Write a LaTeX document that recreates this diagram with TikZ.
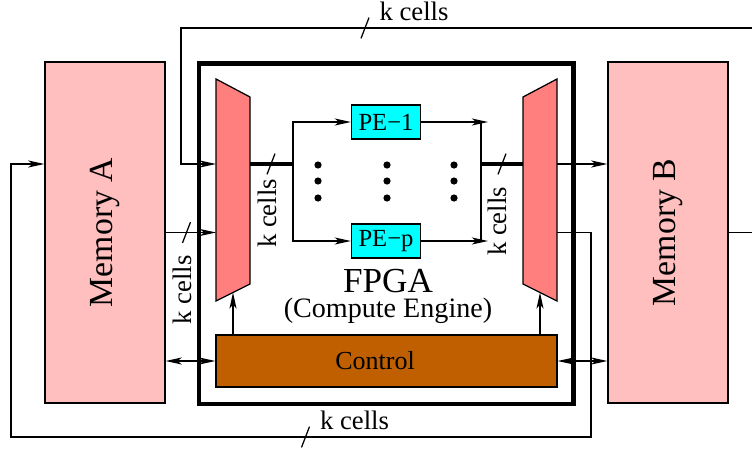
\documentclass[tikz,border=0pt]{standalone}
\usepackage{fontspec}
\setmainfont{Liberation Serif}
\usepackage{graphicx}
\usetikzlibrary{arrows.meta,calc}

\definecolor{memfill}{RGB}{255,191,191}
\definecolor{trapfill}{RGB}{255,127,127}
\definecolor{ctrlfill}{RGB}{191,95,0}
\definecolor{pefill}{RGB}{0,255,255}

\tikzset{
  cellmark/.pic={\draw (-0.1,-0.26) -- (0.1,0.26);},
  kcells/.style={font=\fontsize{19}{22}\selectfont},
  membox/.style={draw, fill=memfill, minimum width=3cm, minimum height=8.525cm, font=\fontsize{24}{28}\selectfont},
  pebox/.style={draw, fill=pefill, minimum width=1.725cm, minimum height=0.85cm, font=\fontsize{17.5}{20}\selectfont},
  bus/.style={line width=2.4pt}
}

\begin{document}
\begin{tikzpicture}[>={Stealth[length=11.5pt,width=5pt,inset=3pt]}, line width=0.9pt, every node/.style={inner sep=0pt}]
  \clip (0,0) rectangle (18.8,11.25);
  % boxes
  \node[draw, line width=3.1pt, minimum width=9.365cm, minimum height=8.51cm] (fpga) at (9.6575,5.406) {};
  \node[membox] (memA) at (2.625,5.4375) {\rotatebox{90}{Memory A}};
  \node[membox] (memB) at (16.7,5.4375) {\rotatebox{90}{Memory B}};
  \node[draw, fill=ctrlfill, minimum width=8.525cm, minimum height=1.3cm] (ctrl) at (9.6625,2.225) {};
  \node[font=\fontsize{18.5}{22}\selectfont] (ctrltext) at (9.375,2.2375) {Control};
  \node[pebox] (pe1) at (9.65,8.2) {PE−1};
  \node[pebox] (pep) at (9.65,5.225) {PE−p};
  \node[align=center, font=\fontsize{25}{17.8}\selectfont] (fpganame) at (9.7,3.85)
    {FPGA\\{\fontsize{20}{17.8}\selectfont(Compute Engine)}};

  % splitter and merger
  \coordinate (split-nw) at (5.4,9.275);   \coordinate (split-ne) at (6.25,8.825);
  \coordinate (split-se) at (6.25,4.15);   \coordinate (split-sw) at (5.4,3.725);
  \coordinate (merge-nw) at (13.075,8.825); \coordinate (merge-ne) at (13.925,9.275);
  \coordinate (merge-se) at (13.925,3.725); \coordinate (merge-sw) at (13.075,4.15);
  \coordinate (split-s) at ($(split-sw)!0.5!(split-se)$);
  \coordinate (merge-s) at ($(merge-sw)!0.5!(merge-se)$);
  \draw[fill=trapfill] (split-nw) -- (split-ne) -- (split-se) -- (split-sw) -- cycle;
  \draw[fill=trapfill] (merge-nw) -- (merge-ne) -- (merge-se) -- (merge-sw) -- cycle;

  \coordinate (fanout) at (7.325,7.15);
  \coordinate (fanin) at (12.025,7.15);
  \coordinate (tip1) at (12.2,8.2);
  \coordinate (tipp) at (12.2,5.225);

  % data paths
  \draw[bus] (fanout -| split-ne) -- (fanout);
  \draw[->] (fanout) |- (pe1.west);
  \draw[->] (fanout) |- (pep.west);
  \draw[->] (pe1.east) -- (tip1);
  \draw[->] (pep.east) -- (tipp);
  \draw (fanin |- pe1) -- (fanin |- pep);
  \draw[bus] (fanin) -- (fanin -| merge-nw);
  \draw[->] (fanin -| merge-ne) -- (fanin -| memB.west);
  \draw[->] (memA.east) -- (memA.east -| split-nw);
  \draw[->] (memB.east) -- (18.95,5.4375) |- (4.525,10.55) |- (split-nw |- fanout);
  \draw[->] (memA.east -| merge-ne) -- (14.775,5.4375) |- (0.275,0.325) |- (memA.west |- fanout);

  % control
  \draw[->] (ctrl.north -| split-s) -- (split-s);
  \draw[->] (ctrl.north -| merge-s) -- (merge-s);
  \draw[<->] (memA.east |- ctrl) -- (ctrl.west);
  \draw[<->] (ctrl.east) -- (memB.west |- ctrl);

  % dots between PEs
  \foreach \x in {7.95,9.675,11.35}
    \foreach \y in {7.125,6.725,6.3}
      \fill (\x,\y) circle (0.09);

  % bus widths
  \foreach \p in {(9.125,10.55),(6.775,7.15),(4.6625,5.4375),(12.55,7.15),(7.6375,0.325)}
    \pic at \p {cellmark};
  \node[kcells] (ktop) at (10.35,10.96) {k cells};
  \node[kcells, rotate=90] (ksplit) at (6.675,5.9125) {k cells};
  \node[kcells, rotate=90] (kmemA) at (4.55,4.0) {k cells};
  \node[kcells, rotate=90] (kmerge) at (12.425,5.7125) {k cells};
  \node[kcells] (kbot) at (8.8625,0.75) {k cells};
\end{tikzpicture}
\end{document}
